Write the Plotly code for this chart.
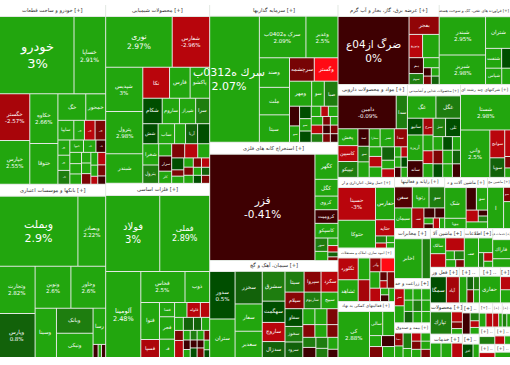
import math
import plotly.graph_objects as go

def H(*c): return ("H", c)
def V(*c): return ("V", c)
def T(title, w, h=100): return ("T", title, w * h / 10)

# change levels
G, M, D, K = 2.5, 1.3, 0.8, 0.5
d, r, R, B = -0.5, -1.5, -3.0, -5.0

A1 = V(T("خودرو و ساخت قطعات [+]", 105, 110),
  H(("خودرو", 5250, 3), ("خساپا", 2230, 2.91)),
  H(V(("خگستر", 1288, -2.57), ("خپارس", 1204, 2.55)),
    V(("خکاوه", 1274, 2.66), ("ختوقا", 1040, G)),
    V(H(("خگ", 672, G), ("خمحور", 480, G)),
      H(("سایپا", 285, G), ("خـ", 190, G), ("خـ", 190, R), ("خـ", 190, r)),
      H(V(("خـ", 165, G), ("خـ", 165, G), ("خـ", 150, M)),
        V(H(("حبوا", 154, G), ("خـ", 140, G), ("خـ", 110, d)),
          H(V(("", 120, G), ("", 110, G), ("", 110, G)),
            V(("", 90, G), ("", 90, G), ("", 90, r)),
            V(("", 80, G), ("", 70, G), ("", 50, R)),
            V(("", 90, R), ("", 80, r), ("", 60, d))))))))

A2 = V(T("بانکها و موسسات اعتباری [+]", 105, 110),
  H(("وبملت", 5000, 2.9), ("وبصادر", 1770, 2.22)),
  H(V(("وتجارت", 1530, 2.82), ("وپارس", 1428, 0.8)),
    V(H(("ونوین", 1365, 2.6), ("وخاور", 1326, 2.6)),
      H(("وسینا", 960, G),
        V(("وبانک", 840, M), ("ونیکی", 805, G)),
        V(("رسا", 416, G), H(("", 60, d), ("", 40, G), ("", 50, d)))))))

B1 = V(T("محصولات شیمیایی [+]", 104, 110),
  H(("نوری", 3072, 2.97), ("شفارس", 1728, -2.96)),
  H(V(("شپدیس", 1496, 3), ("پترول", 1428, 2.98), ("شبندر", 1000, G)),
    V(H(("نکا", 754, R), ("فارس", 580, G), ("پاکشو", 551, G)),
      H(("شکام", 450, K), ("ساروم", 400, G), ("شیراز", 375, G), ("سرا", 325, M)),
      H(("شش", 280, K), ("ساب", 300, G), ("", 200, G), ("آریا", 220, D), ("", 220, K)),
      H(V(("شخرا", 308, G), ("بترول", 266, M)),
        V(("", 144, G), ("سزار", 180, d), ("کلر", 144, G)),
        V(H(("", 168, r), ("", 168, R), ("", 154, G)),
          H(V(("", 132, K), ("", 70, r), ("", 80, G)),
            V(("", 80, G), ("", 70, r), ("", 70, G)),
            V(("", 70, r), ("", 60, G), ("", 60, K)),
            V(("", 70, R), ("", 60, D), ("", 60, r))))))))

B2 = V(T("فلزات اساسی [+]", 104, 110),
  H(("فولاد", 3744, 3), ("فملی", 3456, 2.89)),
  H(("آلومینا", 2752, 2.48),
    V(H(("فخاس", 1247, G), ("ذوب", 696, G)),
      H(V(("فنوا", 629, G), ("فسپا", 306, -2.7)),
        V(("فسا", 196, G), ("فجر", 308, G), ("فـ", 252, G)),
        V(H(("", 168, G), ("فلوله", 182, R), ("", 126, R)),
          H(V(("", 104, G), ("", 80, r), ("", 136, R)),
            V(H(("", 120, D), ("", 96, D), ("", 96, G)),
              H(V(("", 60, G), ("", 60, d), ("", 50, G)),
                V(("", 60, M), ("", 50, d), ("", 60, K)),
                V(("", 60, G), ("", 50, d), ("", 60, r)),
                V(("", 50, r), ("", 50, G), ("", 40, K))))))))))

C1 = V(T("سرمایه گذاریها [+]", 126, 110),
  H(("سرك ه0312ب", 5700, 2.07),
    V(H(("سرک ه0402ب", 1755, 2.09), ("وغدیر", 1209, G)),
      H(V(("وصند", 812, G), ("ملت", 754, G), ("سیتا", 754, G)),
        V(H(("سرچشمه", 528, -1.4), ("وگستر", 506, B)),
          H(("ومهر", 504, G), ("سو", 288, G), ("صبا", 312, M)),
          H(V(("", 180, d), ("سو", 150, G)),
            V(("", 132, K), ("سو", 132, G), ("", 120, K)),
            V(H(("", 90, G), ("", 70, R), ("", 90, G)),
              H(("", 90, G), ("", 60, r), ("", 60, G)),
              H(("", 90, R), ("", 60, d), ("", 60, r)),
              H(("", 90, M), ("", 60, r), ("", 60, d)))))))))

C2 = V(T("استخراج کانه های فلزی [+]", 126, 110),
  H(("فزر", 10200, -0.41),
    V(("کگهر", 528, G), ("کگل", 352, G), ("کروی", 286, G), ("کرومیت", 286, d),
      ("کاسپکو", 308, G),
      H(V(("سور", 156, M), ("", 108, G)),
        V(("", 70, G), ("", 60, R), ("", 45, D), ("", 35, r))))))

C3 = V(T("سیمان، آهک و گچ [+]", 126, 100),
  H(V(("سدور", 1104, K), ("ستران", 888, G)),
    V(("سخزر", 806, D), ("سفار", 676, G), ("سغدیر", 650, G)),
    V(("سشرق", 616, M), ("سهگمت", 440, K), ("ساروج", 396, R), ("سدزال", 330, D)),
    V(H(("سیتا", 360, M), ("سپروا", 320, -1.8), ("سکرد", 320, R)),
      H(("سیلام", 288, -1.8), ("ساربوم", 256, M), ("سبیج", 256, G)),
      H(V(("سقاو", 288, K), ("سخوز", 252, M), ("سرود", 252, D)),
        V(H(("", 175, G), ("", 175, G), ("", 160, r)),
          H(("", 140, -1.7), ("", 140, G), ("", 128, r)),
          H(V(("", 120, M), ("", 120, d)),
            V(("", 120, M), ("", 100, M)),
            V(("", 110, G), ("", 76, d))))))))

D1 = V(T("عرضه برق، گاز، بخار و آب گرم [+]", 100, 110),
  H(("ضرگ از04ع", 4400, 0),
    V(("بفجر", 493, -2),
      H(("وتوزیع", 286, R), ("", 352, G)),
      H(V(("بـم", 208, d), ("سوم", 143, M)),
        V(("", 144, G),
          H(V(("", 60, d), ("", 60, r)), V(("", 60, G), ("", 60, D))))))))

D2 = V(T("فراورده های نفتی، کک و سوخت هسته [+]", 72, 110),
  H(V(("شبندر", 1620, 2.95), ("شبریز", 1240, 2.98)),
    V(("شتران", 720, G),
      H(("شنفت", 290, G), ("", 160, K)),
      H(("شپاس", 240, G), ("", 130, G)))))

D3 = V(T("مواد و محصولات دارویی [+]", 69, 100),
  H(("دامین", 1767, -0.09), ("سدا", 341, M)),
  H(V(("پخش", 306, G), ("کاسپین", 288, R), ("تیپیکو", 288, M)),
    V(("سد", 180, d), ("سو", 160, M), ("", 160, G)),
    V(H(("سفارا", 180, G), ("سر", 234, G), ("سدا", 216, -2)),
      H(V(("", 110, G), ("", 120, R), ("", 120, G)),
        V(("", 156, D), ("", 100, G), ("", 100, R)),
        V(H(("", 60, G), ("", 60, R)), H(("", 60, G), ("", 60, K)), H(("", 60, d), ("", 60, G)))))))

D4 = V(T("محصولات غذایی و آشامیدنی [+]", 55, 100),
  H(("غگ", 580, G), ("غگل", 500, M)),
  H(V(("سانیو", 238, K), ("آریزه", 364, G), ("ساند", 238, d)),
    V(("سرخ", 153, -2.5), ("", 144, G), ("", 117, R), ("", 126, G)),
    V(H(("سژ", 210, M), ("ثلی", 250, K)),
      H(V(("", 120, G), ("", 120, r), ("", 120, K)),
        V(("", 120, K), ("", 120, G), ("", 120, G)),
        V(("", 100, G), ("", 100, D), ("", 100, d))))))

D5 = V(T("شرکتهای چند رشته ای [+]", 46, 100),
  ("شستا", 1610, 2.98),
  H(("وانی", 1269, 2.5),
    V(("سوانح", 378, R), ("سوپا", 266, D)),
    V(("", 140, R), ("", 60, r), ("", 50, G))))

D6 = V(T("حمل ونقل، انبارداری و ار [+]", 57, 90),
  H(V(("حسینا", 1120, -3), ("حتوکا", 952, G)),
    V(("حفارس", 560, G), ("حتاید", 280, R),
      H(V(("", 70, M), ("", 50, R)), V(("", 50, G), ("", 40, G))))))

D15 = V(T("انبوه سازی، املاک و مستغلات [+]", 57, 90),
  H(V(("ثگلورد", 400, R), ("ثشاهد", 400, G)),
    V(("", 230, G), ("", 230, -2.5)),
    V(H(("وآذر", 140, -2), ("", 170, B)),
      H(("", 150, G), V(("", 60, -1), ("", 50, R)), ("", 110, r)),
      H(("", 130, R), V(("", 50, G), ("", 50, d)), ("", 70, G)))))

D16 = V(T("فعالیتهای کمکی به نهاد [+]", 57, 90),
  H(("کی", 1320, 2.88),
    V(H(("سالی", 290, G), ("", 260, G)),
      H(("", 120, G), ("", 130, d)),
      H(("", 130, r), ("", 120, G)))))

D7 = V(T("رایانه و فعالیتها [+]", 48, 90),
  H(("سفن", 340, -0.8), ("رتوپا", 320, G), ("سو", 300, M)),
  H(("سیمان", 323, G), ("سـ", 228, -2.5),
    V(H(("", 100, d), ("", 90, d)),
      H(V(("", 50, G), ("", 40, d)), ("", 60, R), ("", 50, G)))))

D8 = V(T("ماشین آلات و د [+]", 44, 90),
  H(V(("شک", 600, G), ("بیوپا", 200, G)),
    V(H(("", 210, d), ("سو", 230, G)),
      H(("", 130, R), V(("", 50, d), ("", 50, M))),
      ("", 130, G))))

D9 = V(T("ماشین مج [+]", 23, 90),
  H(("ا", 600, G), V(("سو", 90, r), ("", 170, G))))

D10 = V(T("مخابرات [+]", 37, 90),
  H(("اخابر", 1000, 2.5), ("", 300, M)))

D17 = V(T("زراعت و خد [+]", 37, 90),
  H(V(("سز", 150, R), ("", 150, G)),
    V(H(("", 90, G), ("", 90, G), ("", 90, G)),
      H(("", 90, G), ("", 90, M), ("", 90, G)),
      H(("", 90, D), ("", 90, G), ("", 90, G)))))

D18 = V(T("بیمه و صندوق [+]", 37, 90),
  H(V(("ـسا", 100, -2), ("", 90, G)),
    V(("", 120, M), ("", 70, G)),
    V(H(("", 70, R), ("", 70, G)), H(("", 70, r), ("", 70, G)), H(("", 70, G), ("", 70, r)))))

D11 = V(T("ماشین آلا [+]", 32, 90),
  H(V(("سالک", 220, G), ("", 190, R)),
    V(("", 220, R), H(("", 70, G), ("", 80, M)), H(("", 70, G), ("", 60, r)))))

D12 = V(T("اطلاعات [+]", 27, 90),
  H(("سـ", 380, G), V(("", 190, G), H(("", 70, M), V(("", 70, R), ("", 50, G))))))

D13 = V(T("خدمات ف [+]", 20, 90),
  ("فاراك", 310, G), ("", 140, G))

D19 = V(T("فعل ور [+]", 29, 85),
  H(("سمگا", 380, K), ("آباد", 310, -2.5)))
D20 = V(T("[+] ..", 20, 85),
  H(("", 180, G), V(H(("", 80, D), ("", 70, M)), H(("", 80, r), ("", 70, G)))))
D21 = V(T("[+] ..", 20, 85), ("حفاری", 510, G))
D22 = V(T("[+]", 10, 85), ("", 120, R), ("", 120, G))
D23 = V(T("محصولات [+]", 29, 90),
  H(("تپارك", 430, M), V(("", 100, R), ("", 65, r), ("", 55, G))))
D24 = V(T("خدمات [+]", 29, 90),
  H(("", 140, G), ("", 140, G), ("", 140, R)))
D25 = V(T("[+] ..", 17, 90),
  H(("", 150, d), V(("", 65, M), ("", 55, R), ("", 55, G))))
D26 = V(T("[+] ..", 17, 90), H(("افق", 130, K), ("", 75, G)))
D27 = V(T("[+] ..", 14, 90), H(("", 85, G), ("", 85, R)))
D28 = V(T("[+] .", 10, 90), H(("", 75, R), ("", 45, G)))
D29 = V(T("[+] .", 9, 90), H(("", 55, M), ("", 45, G)))
D30 = V(T("[+] ..", 17, 80), ("", 110, M))
D31 = V(T("[+] ..", 16, 80), H(("", 75, R), ("", 45, G)))
D32 = V(T("[+] ..", 17, 70), ("", 70, R))
D33 = V(T("[+] ..", 16, 70), ("", 75, G))

TREE = H(
  V(A1, A2),
  V(B1, B2),
  V(C1, C2, C3),
  V(H(D1, D2),
    H(D3, D4, D5),
    H(V(D6, D15, D16),
      V(H(D7, D8, D9),
        H(V(D10, D17, D18),
          V(H(D11, D12, D13),
            H(D19, D20, D21, D22),
            H(V(D23, D24),
              V(D25, D26),
              V(H(D27, D28, D29), H(D30, D31), H(D32, D33)))))))))

# fonts for the largest labels
BIG_FONT = {"خودرو": 13, "فولاد": 10, "فملی": 8, "وبملت": 11, "فزر": 10.5,
            "ضرگ از04ع": 10.5, "نوری": 7.5, "خساپا": 6, "آلومینا": 6.5, "سرك ه0312ب": 11}
LABEL_SHIFT = {"سرك ه0312ب": -6}

STOPS = [(-5, (255, 10, 20)), (-3, (185, 5, 12)), (-1.5, (125, 5, 5)), (-0.5, (62, 0, 2)),
         (0, (62, 0, 2)), (0.01, (0, 60, 0)), (0.5, (0, 78, 0)), (0.8, (18, 98, 10)),
         (1.3, (30, 125, 15)), (2, (34, 166, 14)), (5, (34, 166, 14))]

def colour(ch):
    for (a, ca), (b, cb) in zip(STOPS, STOPS[1:]):
        if ch <= b:
            t = max(0, (ch - a) / (b - a))
            return "rgb(%d,%d,%d)" % tuple(round(x + (y - x) * t) for x, y in zip(ca, cb))
    return "rgb(34,166,14)"

ids, parents, values, texts, colours, names, is_title = [], [], [], [], [], [], []

def add(i, p, v, t, c, name="", title=False):
    ids.append(i); parents.append(p); values.append(v); texts.append(t)
    colours.append(c); names.append(name); is_title.append(title)

GAP = "rgb(226,232,226)"

def walk(node, parent, depth):
    i = "n%d" % len(ids)
    kind = node[0]
    if kind == "T":
        add(i, parent, node[2], node[1], "rgb(255,255,255)", node[1], True)
    elif kind in ("H", "V"):
        if (depth % 2 == 0) != (kind == "H"):
            add(i, parent, 0, "", GAP)
            parent, i, depth = i, "n%d" % len(ids), depth + 1
        add(i, parent, 0, "", GAP)
        for child in node[1]:
            walk(child, i, depth + 1)
    else:
        name, v, ch = node
        label = "%s<br>%g%%" % (name, ch) if name and v >= 1100 else name
        add(i, parent, v, label, colour(ch), name)

walk(TREE, "", 0)

# Same slice-dice arithmetic as the treemap, used only to centre the labels on their cells.
PLOT_W, PLOT_H, PLOT_TOP = 510, 352, 5
kids = {}
for n, p in zip(ids, parents):
    kids.setdefault(p, []).append(n)
idx = {n: k for k, n in enumerate(ids)}

def total(n):
    return values[idx[n]] + sum(total(c) for c in kids.get(n, []))

annotations = []

def place(n, x0, y0, x1, y1, depth, pad):
    x0, y0, x1, y1 = x0 + pad, y0 + pad, x1 - pad, y1 - pad
    cs = kids.get(n, [])
    if cs:
        ax0, ay0, ax1, ay1 = x0 - 0.5, y0 - 0.5, x1 + 0.5, y1 + 0.5
        s = sum(total(c) for c in cs)
        full_w, full_h = ax1 - ax0, ay1 - ay0
        for c in cs:
            f = total(c) / s
            if depth % 2 == 0:
                place(c, ax0, ay0, ax0 + full_w * f, ay1, depth + 1, 0.5)
                ax0 += full_w * f
            else:
                place(c, ax0, ay0, ax1, ay0 + full_h * f, depth + 1, 0.5)
                ay0 += full_h * f
    elif texts[idx[n]]:
        k = idx[n]
        w, h = max(x1 - x0, 1), max(y1 - y0, 1)
        name = names[k]
        lines = texts[k].count("<br>") + 1
        if is_title[k]:
            size = max(3, min(5.2, (w - 1) / (0.5 * len(name))))
            fc = "rgb(45,45,45)"
        else:
            want = BIG_FONT.get(name, min(5.5, math.sqrt(w * h) / 3.4))
            size = want if name in BIG_FONT else max(3, min(want, (w - 1) / (0.6 * len(name)), (h - 1) / (1.25 * lines)))
            fc = "rgb(255,255,255)"
        annotations.append(dict(
            text=texts[k], x=(x0 + x1) / 2 / 510, y=1 - (PLOT_TOP + (y0 + y1) / 2) / 365,
            xref="paper", yref="paper", xanchor="center", yanchor="middle", showarrow=False,
            xshift=LABEL_SHIFT.get(name, 0), borderpad=0,
            font=dict(family="DejaVu Sans", size=round(size, 1), color=fc)))

place(ids[0], 0, 0, PLOT_W, PLOT_H, 0, 0)

fig = go.Figure(go.Treemap(
    ids=ids, labels=names, parents=parents, values=values,
    branchvalues="remainder", sort=False, textinfo="none", hoverinfo="label",
    marker=dict(colors=colours, line=dict(width=0), depthfade=False,
                pad=dict(t=0, l=0, r=0, b=0)),
    tiling=dict(packing="slice-dice", pad=1),
    pathbar=dict(visible=False),
    domain=dict(x=[0, 1], y=[8 / 365, 1 - 5 / 365]),
))
fig.update_layout(width=510, height=365, margin=dict(l=0, r=0, t=0, b=0),
                  paper_bgcolor="white", showlegend=False, annotations=annotations)
fig.write_html("out.html", config={"displayModeBar": False},
               post_script="document.body.style.margin='0';")
